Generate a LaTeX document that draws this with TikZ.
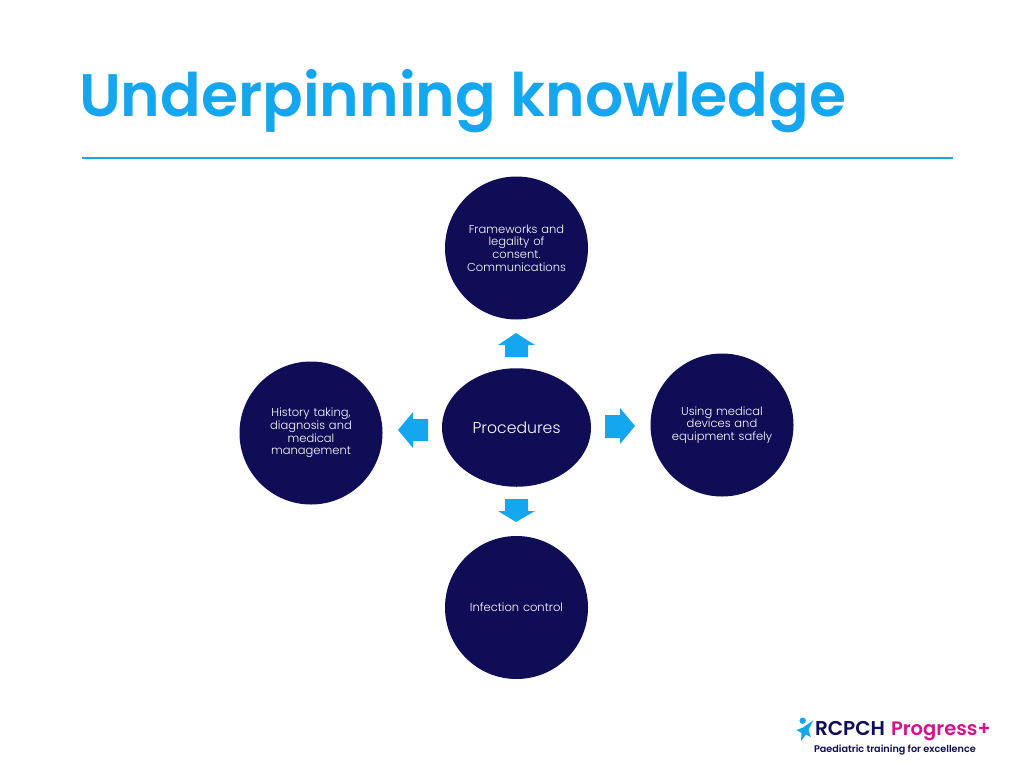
\documentclass[tikz,border=0pt]{standalone}
\usepackage{fontspec}
\setmainfont{Poppins}
\newfontfamily\semi{Poppins SemiBold}
\newfontfamily\lightf{Poppins Light}
\definecolor{navy}{HTML}{0F0D56}
\definecolor{skyb}{HTML}{14A6EE}
\definecolor{magen}{HTML}{D3148A}
\usetikzlibrary{shapes.geometric}
\tikzset{
  every node/.style={inner sep=0pt,outer sep=0pt},
  topic/.style={circle,fill=navy,minimum size=143pt,text=white,align=center,text width=104pt,font=\lightf\fontsize{11.5}{12.6}\selectfont},
  hub/.style={ellipse,fill=navy,minimum width=149pt,minimum height=118.5pt,text=white,font=\lightf\fontsize{15.7}{18}\selectfont},
  blockarrow/.style={fill=skyb}
}
\begin{document}
\begin{tikzpicture}[x=1pt,y=-1pt]
\useasboundingbox (0,0) rectangle (1024,768);
\fill[white] (0,0) rectangle (1024,768);
\node[anchor=base west,text=skyb,font=\semi\fontsize{60}{66}\selectfont] (title) at (79,116) {Underpinning knowledge};
\coordinate (ruleL) at (82,158);
\coordinate (ruleR) at (953,158);
\draw[skyb,line width=2pt] (ruleL) -- (ruleR);
\node[topic] (top) at (516.5,248) {Frameworks and\\legality of\\consent.\\Communications};
\node[topic] (left) at (311,433) {History taking,\\diagnosis and\\medical\\management};
\node[topic] (right) at (722,425) {Using medical\\devices and\\equipment safely};
\node[topic] (bottom) at (516.5,607.5) {Infection control};
\node[hub] (hub) at (516.5,427.5) {Procedures};
\fill[blockarrow] (516,333)--(535,345)--(528,345)--(528,357)--(505,357)--(505,345)--(498,345)--cycle;
\fill[blockarrow] (516,522)--(535,511)--(528,511)--(528,499)--(505,499)--(505,511)--(498,511)--cycle;
\fill[blockarrow] (635,426)--(620,408)--(620,415)--(605,415)--(605,438)--(620,438)--(620,444)--cycle;
\fill[blockarrow] (398,430)--(413,412)--(413,419)--(428,419)--(428,441)--(413,441)--(413,448)--cycle;
% logo
\fill[skyb] (802.7,720.7) circle (3.2);
\fill[skyb] (796.5,730)--(803,727.5)--(813,720.5)--(808.5,730)--(811,737)--(806,734.5)--(801,741)--(801.5,733)--cycle;
\node[anchor=base west,text=navy,font=\semi\fontsize{20}{22}\selectfont] (rcpch) at (815,735) {RCPCH};
\node[anchor=base west,text=magen,font=\semi\fontsize{19.5}{22}\selectfont] (prog) at (891,735) {Progress+};
\node[anchor=base west,text=navy,font=\semi\fontsize{9.65}{11}\selectfont] (tag) at (814,752) {Paediatric training for excellence};
\end{tikzpicture}
\end{document}
